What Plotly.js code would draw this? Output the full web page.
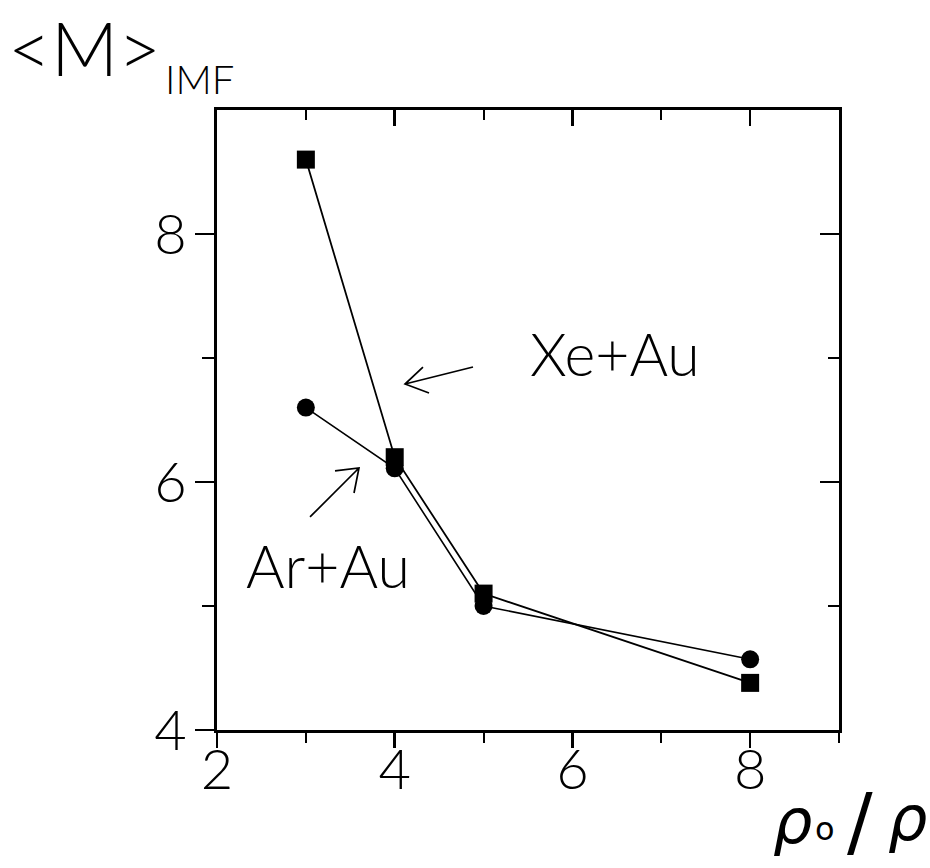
<!DOCTYPE html>
<html>
<head>
<meta charset="utf-8">
<script src="https://cdn.plot.ly/plotly-3.0.1.min.js"></script>
<style>html,body{margin:0;padding:0;background:#fff;}</style>
</head>
<body>
<div id="chart" style="width:930px;height:868px;"></div>
<script>
// density ratio rho0/rho
var xeX = [3, 4, 5, 8];
var xeY = [8.6, 6.2, 5.1, 4.38];
var arX = [3, 4, 5, 8];
var arY = [6.6, 6.11, 5.0, 4.57];
var xTickVals = [2, 4, 6, 8];
var xTickText = ['2', '4', '6', '8'];
var yTickVals = [4, 6, 8];
var yTickText = ['4', '6', '8'];

var FONT = 'Lato, "DejaVu Sans", sans-serif';
var GREEK = '"DejaVu Sans", sans-serif';

var traces = [
  {x: xeX, y: xeY, type: 'scatter', mode: 'lines+markers', name: 'Xe+Au',
   line: {color: '#000', width: 1.8},
   marker: {symbol: 'square', size: 18, color: '#000'}},
  {x: arX, y: arY, type: 'scatter', mode: 'lines+markers', name: 'Ar+Au',
   line: {color: '#000', width: 1.6},
   marker: {symbol: 'circle', size: 18, color: '#000'}},
  // invisible carrier so the mirrored (top/right) frame axes are drawn
  {x: xeX, y: xeY, xaxis: 'x2', yaxis: 'y2', type: 'scatter', mode: 'markers',
   marker: {opacity: 0}, hoverinfo: 'skip', showlegend: false}
];

var axFont = {family: FONT, size: 56, color: '#000', weight: 300};

var layout = {
  width: 930, height: 868,
  margin: {l: 217, r: 91, t: 110, b: 138},
  paper_bgcolor: '#fff', plot_bgcolor: '#fff',
  showlegend: false,
  xaxis: {range: [2, 9], showgrid: false, zeroline: false,
          showline: true, linecolor: '#000', linewidth: 3,
          ticks: 'outside', ticklen: 15, tickwidth: 2.5, tickcolor: '#000',
          tickvals: xTickVals, ticktext: xTickText, tickfont: axFont,
          ticklabelstandoff: -26,
          minor: {tickvals: [3, 5, 7, 9], ticks: 'outside', ticklen: 10, tickwidth: 2, tickcolor: '#000', showgrid: false}},
  yaxis: {range: [4, 9], showgrid: false, zeroline: false,
          showline: true, linecolor: '#000', linewidth: 3,
          ticks: 'outside', ticklen: 19, tickwidth: 2.5, tickcolor: '#000',
          tickvals: yTickVals, ticktext: yTickText, tickfont: axFont,
          ticklabelstandoff: -3,
          minor: {tickvals: [5, 7], ticks: 'outside', ticklen: 12, tickwidth: 2, tickcolor: '#000', showgrid: false}},
  xaxis2: {range: [2, 9], overlaying: 'x', side: 'top', anchor: 'y2',
           showgrid: false, zeroline: false, showline: true, linecolor: '#000', linewidth: 3,
           ticks: 'inside', ticklen: 16, tickwidth: 2.5, tickcolor: '#000',
           tickvals: xTickVals, showticklabels: false,
           minor: {tickvals: [3, 5, 7], ticks: 'inside', ticklen: 10, tickwidth: 2, tickcolor: '#000', showgrid: false}},
  yaxis2: {range: [4, 9], overlaying: 'y', side: 'right', anchor: 'x2',
           showgrid: false, zeroline: false, showline: true, linecolor: '#000', linewidth: 3,
           ticks: 'inside', ticklen: 19, tickwidth: 2.5, tickcolor: '#000',
           tickvals: yTickVals, showticklabels: false,
           minor: {tickvals: [5, 7], ticks: 'inside', ticklen: 11, tickwidth: 2, tickcolor: '#000', showgrid: false}},
  shapes: [
    {type: 'path', xref: 'x', yref: 'y', line: {color: '#000', width: 1.7},
     path: 'M4.881,6.927 L4.116,6.79 M4.318,6.927 L4.116,6.79 L4.386,6.718'},
    {type: 'path', xref: 'x', yref: 'y', line: {color: '#000', width: 1.7},
     path: 'M3.047,5.718 L3.598,6.113 M3.328,6.089 L3.598,6.113 L3.542,5.911'}
  ],
  annotations: [
    {xref: 'paper', yref: 'paper', x: -0.34, y: 1.1758, xanchor: 'left', yanchor: 'top',
     text: '&lt;M&gt;', showarrow: false, font: {family: FONT, size: 74, color: '#000', weight: 300}},
    {xref: 'paper', yref: 'paper', x: -0.087, y: 1.05, xanchor: 'left', yanchor: 'middle',
     text: 'IMF', showarrow: false, font: {family: FONT, size: 40, color: '#000', weight: 300}},
    {xref: 'x', yref: 'y', x: 5.5, y: 7.04, xanchor: 'left', yanchor: 'middle',
     text: 'Xe+Au', showarrow: false, font: {family: FONT, size: 59, color: '#000', weight: 300}},
    {xref: 'x', yref: 'y', x: 2.3, y: 5.33, xanchor: 'left', yanchor: 'middle',
     text: 'Ar+Au', showarrow: false, font: {family: FONT, size: 59, color: '#000', weight: 300}},
    {xref: 'paper', yref: 'paper', x: 0.89, y: -0.148, xanchor: 'left', yanchor: 'middle',
     text: '<i>ρ</i>', showarrow: false, font: {family: GREEK, size: 62, color: '#000'}},
    {xref: 'paper', yref: 'paper', x: 0.958, y: -0.16, xanchor: 'left', yanchor: 'middle',
     text: 'o', showarrow: false, font: {family: GREEK, size: 32, color: '#000'}},
    {xref: 'paper', yref: 'paper', x: 1.01, y: -0.148, xanchor: 'left', yanchor: 'middle',
     text: '/', showarrow: false, font: {family: GREEK, size: 76, color: '#000'}},
    {xref: 'paper', yref: 'paper', x: 1.075, y: -0.143, xanchor: 'left', yanchor: 'middle',
     text: '<i>ρ</i>', showarrow: false, font: {family: GREEK, size: 62, color: '#000'}}
  ]
};

Plotly.newPlot('chart', traces, layout, {displayModeBar: false, staticPlot: true});
</script>
</body>
</html>
